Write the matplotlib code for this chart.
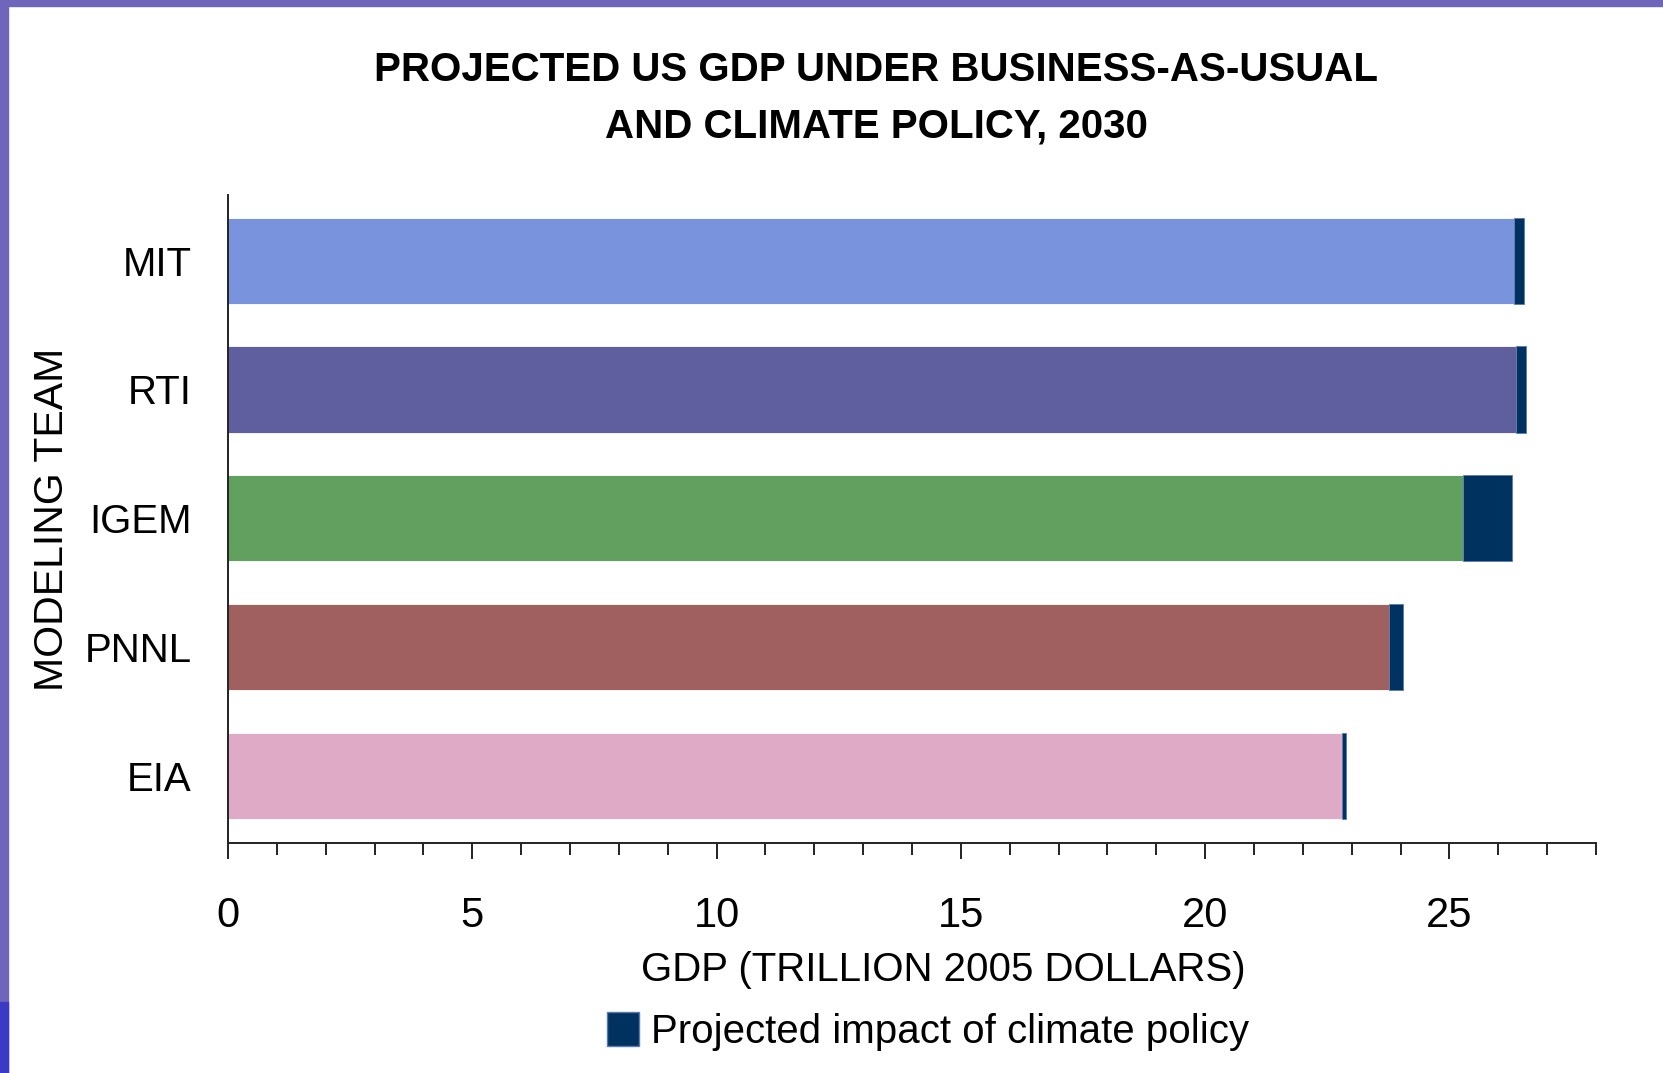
import matplotlib
matplotlib.use("Agg")
import matplotlib.pyplot as plt
from matplotlib.patches import Rectangle, Patch

teams = ["MIT", "RTI", "IGEM", "PNNL", "EIA"]
gdp_policy = [26.33, 26.36, 25.28, 23.77, 22.80]   # GDP under climate policy
policy_impact = [0.20, 0.21, 1.00, 0.29, 0.09]     # BAU minus policy
bar_colors = ["#7a93dd", "#5f5e9e", "#62a060", "#a06060", "#dfaac6"]
impact_color = "#00325f"

FONT = ["Liberation Sans Narrow", "Liberation Sans", "DejaVu Sans"]
plt.rcParams["font.family"] = FONT

fig = plt.figure(figsize=(16.63, 10.73), dpi=100)
ax = fig.add_axes([0.1371, 0.2144, 0.8226, 0.6039])

ypos = list(range(len(teams)))[::-1]
ax.barh(ypos, gdp_policy, height=0.67, color=bar_colors,
        edgecolor="#ffffff", linewidth=0.6)
ax.barh(ypos, policy_impact, left=gdp_policy, height=0.67,
        color=impact_color, edgecolor="#5a7ab0", linewidth=0.6)

ax.set_xlim(0, 28)
ax.set_ylim(-0.52, 4.51)
ax.set_xticks([0, 5, 10, 15, 20, 25])
ax.set_xticks(range(0, 29), minor=True)
ax.set_yticks(ypos)
ax.set_yticklabels(teams)
ax.tick_params(axis="x", which="major", length=11.5, width=1.4,
               labelsize=30, pad=27, color="#222222")
ax.tick_params(axis="x", which="minor", length=8.5, width=1.4, color="#222222")
ax.tick_params(axis="y", length=0, labelsize=29, pad=26)
for s in ["top", "right"]:
    ax.spines[s].set_visible(False)
for s in ["left", "bottom"]:
    ax.spines[s].set_linewidth(1.4)
    ax.spines[s].set_color("#222222")

fig.text(0.527, 0.9085, "PROJECTED US GDP UNDER BUSINESS-AS-USUAL\nAND CLIMATE POLICY, 2030",
         ha="center", va="center", fontsize=29, fontweight="bold",
         linespacing=1.6)
fig.text(0.031, 0.516, "MODELING TEAM", rotation=90, ha="center", va="center",
         fontsize=29.5)
fig.text(0.5675, 0.096, "GDP (TRILLION 2005 DOLLARS)", ha="center", va="center",
         fontsize=29)
fig.legend(handles=[Patch(facecolor=impact_color, edgecolor="#5a7ab0",
                          label="Projected impact of climate policy")],
           loc="center", bbox_to_anchor=(0.558, 0.039), frameon=False,
           fontsize=29, handlelength=0.8, handleheight=0.95,
           handletextpad=0.3, borderpad=0)

# slide frame
fig.patches.append(Rectangle((0, 0), 8 / 1663, 1, transform=fig.transFigure,
                             color="#6f66bc", zorder=0))
fig.patches.append(Rectangle((0, 0), 8 / 1663, 71 / 1073, transform=fig.transFigure,
                             color="#3a3ac4", zorder=1))
fig.patches.append(Rectangle((0, 1 - 6 / 1073), 1, 6 / 1073, transform=fig.transFigure,
                             color="#6f66bc", zorder=0))

fig.savefig("out.png", dpi=100)
